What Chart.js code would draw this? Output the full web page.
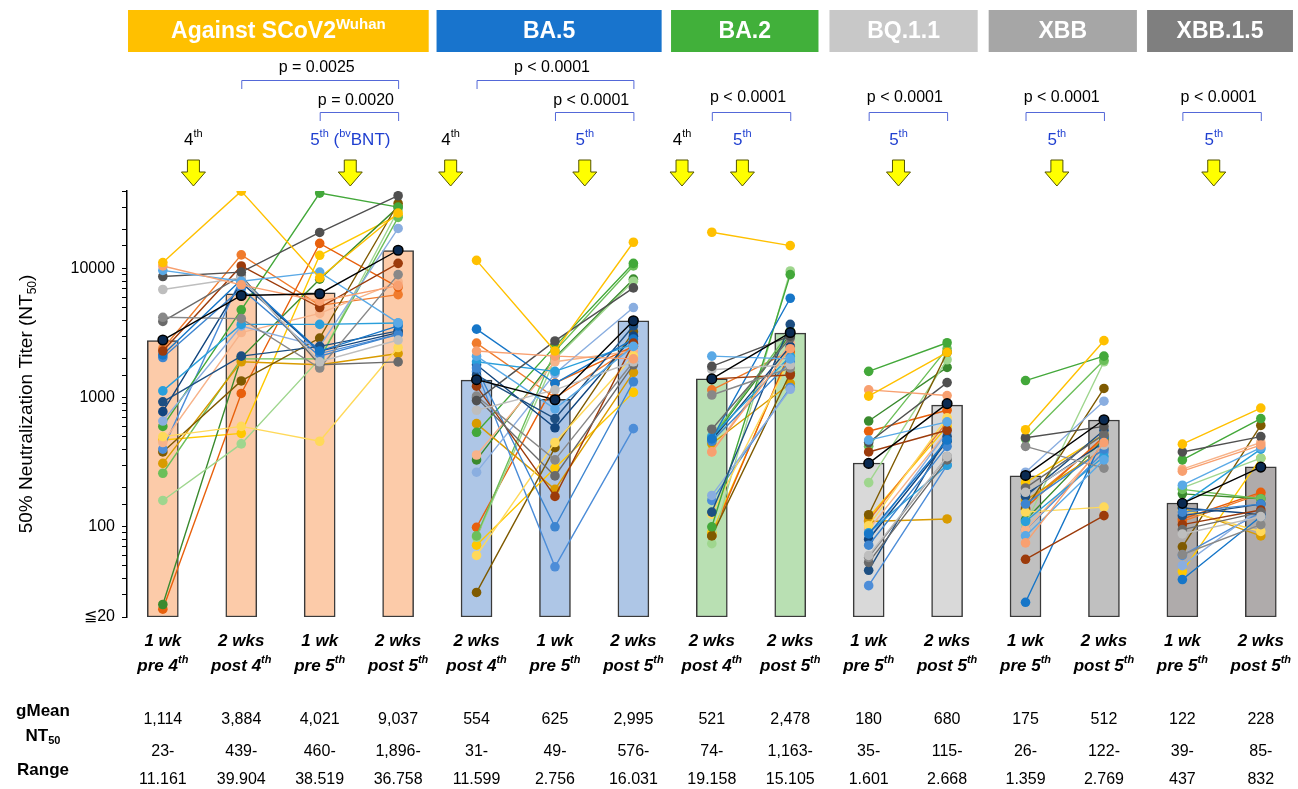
<!DOCTYPE html>
<html>
<head>
<meta charset="utf-8">
<script src="https://cdn.jsdelivr.net/npm/chart.js@4.4.0/dist/chart.umd.min.js"></script>
<style>
  html, body { margin: 0; padding: 0; background: #fff; }
  #wrap { width: 1298px; height: 789px; }
</style>
</head>
<body>
<div id="wrap"><canvas id="myChart" width="1298" height="789"></canvas></div>
<script>
const Y_MIN = 20
const Y_MAX = 40000
const FONT = '"Liberation Sans", Arial, sans-serif'

// columns (15 in a row, grouped by variant)
const columnTop = ['1 wk', '2 wks', '1 wk', '2 wks', '2 wks', '1 wk', '2 wks', '2 wks', '2 wks', '1 wk', '2 wks', '1 wk', '2 wks', '1 wk', '2 wks']
const columnBottom = ['pre 4', 'post 4', 'pre 5', 'post 5', 'post 4', 'pre 5', 'post 5', 'post 4', 'post 5', 'pre 5', 'post 5', 'pre 5', 'post 5', 'pre 5', 'post 5']
const gMeans = ['1,114', '3,884', '4,021', '9,037', '554', '625', '2,995', '521', '2,478', '180', '680', '175', '512', '122', '228']
const rangeLow = ['23-', '439-', '460-', '1,896-', '31-', '49-', '576-', '74-', '1,163-', '35-', '115-', '26-', '122-', '39-', '85-']
const rangeHigh = ['11.161', '39.904', '38.519', '36.758', '11.599', '2.756', '16.031', '19.158', '15.105', '1.601', '2.668', '1.359', '2.769', '437', '832']
const barValues = [2770, 6400, 6500, 13800, 1370, 970, 3950, 1400, 3170, 312, 877, 248, 672, 153, 292]

// variants
const variantNames = ['Against SCoV2', 'BA.5', 'BA.2', 'BQ.1.1', 'XBB', 'XBB.1.5']
const variantStart = [0, 4, 7, 9, 11, 13]
const headerColors = ['#FFC000', '#1874CD', '#41B03A', '#C8C8C8', '#A6A6A6', '#7F7F7F']
const barColors = ['#FCCBA9', '#AEC6E6', '#B9E0B3', '#D9D9D9', '#C0C0C0', '#AFABAB']

// p values and the column pairs they compare
const pLabels = ['p = 0.0025', 'p = 0.0020', 'p < 0.0001', 'p < 0.0001', 'p < 0.0001', 'p < 0.0001', 'p < 0.0001', 'p < 0.0001']
const pPairs = [[1, 3], [2, 3], [4, 6], [5, 6], [7, 8], [9, 10], [11, 12], [13, 14]]

// one colour per donor, same order as the rows below
const subjectColors = [
    '#FFC000', '#F8A070', '#5AA9E6', '#505050', '#BEBEBE', '#888888', '#6A6A6A',
    '#0A2A52', '#9C3B0B', '#1676C8', '#3D85D0', '#2A9FDB', '#1D4F82', '#11457E',
    '#8AAEE0', '#43A83A', '#FFD95A', '#F7B38A', '#4D8DD8', '#7F5A00', '#D99B00',
    '#6CBF5A', '#9FD68E', '#3A8A2E', '#E8600C', '#F07B2C', '#FFC800'
]
const highlighted = 7

const wuhanTiters = [
    [11161, 39904, 8500, 27000], [10500, 7500, 5600, 7400], [9700, 8000, 9400, 3800],
    [8700, 9400, 19100, 36758], [6900, 8500, 1900, 2800], [4200, 4100, 1700, 9000],
    [3900, 8800, 1800, 1896], [2800, 6200, 6400, 13900], [2300, 10500, 5000, 11000],
    [2150, 8200, 2300, 3600], [2050, 7000, 2100, 3100], [1130, 3700, 3700, 3800],
    [930, 2100, 2500, 3300], [780, 7800, 2300, 3200], [660, 3600, 2500, 20500],
    [600, 4800, 38519, 30000], [500, 600, 460, 2450], [450, 3200, 4500, 7900],
    [400, 8500, 2200, 3100], [380, 1350, 2900, 32000], [310, 1900, 1800, 2200],
    [260, 2000, 2000, 25000], [160, 439, 2000, 28500], [25, 2050, 8300, 30000],
    [23, 1080, 15700, 7200], [2400, 12800, 5200, 6300], [470, 530, 12700, 26000]
]
const ba5Titers = [
    [11599, 2300, 16031], [2300, 2100, 2000], [2100, 820, 2500], [950, 2756, 7100],
    [800, 1150, 1900], [1030, 330, 1900], [1000, 248, 1800], [1380, 965, 3950],
    [1230, 172, 2650], [3400, 1290, 2850], [1700, 100, 1330], [1900, 1600, 2600],
    [1500, 690, 3600], [1800, 585, 3000], [265, 1540, 5000], [540, 2500, 11000],
    [60, 450, 2100], [360, 1900, 2300], [1600, 49, 576], [31, 410, 3250],
    [630, 195, 1570], [85, 2300, 10500], [83, 2000, 8000], [330, 2050, 8300],
    [99, 1300, 2500], [2650, 1000, 2500], [72, 285, 1100]
]
const ba2Titers = [
    [19158, 15105], [380, 2400], [2100, 2000], [1750, 3000], [1650, 1800], [1050, 1700],
    [570, 2900], [1400, 3200], [1400, 1500], [480, 5900], [460, 1900], [500, 2100],
    [130, 3700], [470, 2500], [175, 1163], [100, 9000], [125, 2000], [380, 2650],
    [160, 1200], [85, 1550], [440, 1290], [490, 3300], [74, 9600], [480, 3100],
    [85, 2300], [1150, 2300], [90, 2200]
]
const bq11Titers = [
    [1030, 2250], [1150, 1040], [470, 650], [450, 1310], [60, 350], [58, 350],
    [53, 330], [310, 900], [380, 560], [88, 470], [72, 420], [90, 300],
    [46, 500], [80, 460], [81, 540], [1601, 2668], [102, 700], [95, 550],
    [35, 300], [124, 2250], [110, 115], [420, 2400], [220, 1970], [660, 1720],
    [550, 800], [112, 650], [118, 600]
]
const xbbTiters = [
    [565, 2769], [75, 450], [85, 330], [490, 600], [185, 430], [420, 285],
    [200, 520], [250, 675], [56, 122], [26, 500], [150, 400], [110, 350],
    [172, 560], [180, 450], [265, 940], [1359, 2100], [130, 142], [95, 420],
    [95, 380], [137, 1180], [160, 400], [480, 1950], [105, 1900], [113, 480],
    [140, 500], [150, 480], [220, 520]
]
const xbb15Titers = [
    [437, 832], [270, 430], [210, 410], [380, 500], [88, 120], [61, 104],
    [95, 130], [152, 290], [104, 135], [39, 120], [130, 150], [150, 400],
    [122, 150], [140, 125], [50, 140], [330, 690], [135, 92], [280, 450],
    [60, 130], [70, 610], [140, 85], [195, 165], [200, 340], [180, 165],
    [115, 185], [110, 180], [45, 340]
]
const variantTiters = [wuhanTiters, ba5Titers, ba2Titers, bq11Titers, xbbTiters, xbb15Titers]

// ---------- datasets ----------
function groupOf(col) {
    let g = 0
    variantStart.forEach((s, i) => { if (col >= s) g = i })
    return g
}

const datasets = []

datasets.push({
    type: 'bar',
    data: barValues.map((v, i) => ({ x: i, y: [Y_MIN, v] })),
    backgroundColor: barValues.map((v, i) => barColors[groupOf(i)]),
    borderColor: '#3a3a3a',
    borderWidth: 1.5,
    borderSkipped: false,
    barThickness: 31,
    grouped: false,
    order: 100,
})

subjectColors.forEach((color, s) => {
    const points = []
    variantTiters.forEach((rows, g) => {
        const row = rows[s]
        row.forEach((v, j) => points.push({ x: variantStart[g] + j, y: v }))
        // break the line between variants
        points.push({ x: variantStart[g] + row.length - 0.5, y: null })
    })
    const isHi = s === highlighted
    datasets.push({
        type: 'line',
        data: points,
        spanGaps: false,
        borderColor: isHi ? '#000' : color,
        backgroundColor: color,
        borderWidth: 1.4,
        pointRadius: 4.8,
        pointBackgroundColor: color,
        pointBorderColor: isHi ? '#000' : color,
        pointBorderWidth: isHi ? 1.5 : 0,
        order: isHi ? 0 : 10,
    })
})

// ---------- text helpers ----------
function fontStr(size, weight, style) {
    return (style || 'normal') + ' ' + (weight || 'normal') + ' ' + size + 'px ' + FONT
}

// parts: [[text, ''|'sup'|'sub'], ...]
function drawRich(ctx, parts, cx, cy, size, opts) {
    opts = opts || {}
    const small = Math.round(size * 0.65)
    let total = 0
    const widths = parts.map(([t, k]) => {
        ctx.font = fontStr(k ? small : size, opts.weight, opts.style)
        const w = ctx.measureText(t).width
        total += w
        return w
    })
    let x = opts.align === 'left' ? cx : cx - total / 2
    ctx.textBaseline = 'middle'
    ctx.textAlign = 'left'
    ctx.fillStyle = opts.color || '#000'
    parts.forEach(([t, k], i) => {
        ctx.font = fontStr(k ? small : size, opts.weight, opts.style)
        let dy = 0
        if (k === 'sup') dy = -size * 0.33
        if (k === 'sub') dy = size * 0.28
        ctx.fillText(t, x, cy + dy)
        x += widths[i]
    })
}

function drawArrow(ctx, cx, top) {
    ctx.beginPath()
    ctx.moveTo(cx - 6, top)
    ctx.lineTo(cx + 6, top)
    ctx.lineTo(cx + 6, top + 12)
    ctx.lineTo(cx + 12, top + 12)
    ctx.lineTo(cx, top + 26)
    ctx.lineTo(cx - 12, top + 12)
    ctx.lineTo(cx - 6, top + 12)
    ctx.closePath()
    ctx.fillStyle = '#FFFF00'
    ctx.fill()
    ctx.strokeStyle = '#555500'
    ctx.lineWidth = 1
    ctx.stroke()
}

// ---------- everything around the plot ----------
const overlay = {
    id: 'overlay',
    afterDraw(chart) {
        const ctx = chart.ctx
        const xs = chart.scales.x
        const px = v => xs.getPixelForValue(v)
        ctx.save()

        // variant header boxes
        const spans = [[-0.444, 3.39], [3.49, 6.36], [6.48, 8.36], [8.5, 10.39], [10.53, 12.42], [12.55, 14.41]]
        spans.forEach(([a, b], i) => {
            const x0 = Math.max(px(a), 128), x1 = Math.min(px(b), 1298)
            ctx.fillStyle = headerColors[i]
            ctx.fillRect(x0, 10, x1 - x0, 42)
            const parts = i === 0 ? [[variantNames[i], ''], ['Wuhan', 'sup']] : [[variantNames[i], '']]
            drawRich(ctx, parts, (x0 + x1) / 2, 32, 23, { weight: 'bold', color: '#fff' })
        })

        // significance brackets
        ctx.strokeStyle = '#5468D8'
        ctx.lineWidth = 1
        pPairs.forEach(([a, b], i) => {
            const lower = i === 1 || i >= 3
            const top = lower ? 112 : 80
            const labelY = i === 1 || i === 3 ? 101 : (lower ? 98 : 68)
            const x0 = px(a), x1 = px(b)
            ctx.beginPath()
            ctx.moveTo(x0 + 0.5, top + 9)
            ctx.lineTo(x0 + 0.5, top + 0.5)
            ctx.lineTo(x1 + 0.5, top + 0.5)
            ctx.lineTo(x1 + 0.5, top + 9)
            ctx.stroke()
            drawRich(ctx, [[pLabels[i], '']], (x0 + x1) / 2 - 3, labelY, 16)
        })

        // booster doses
        const doses = [[0.39, '4', false], [2.39, '5', true], [3.67, '4', false], [5.38, '5', true],
                       [6.62, '4', false], [7.39, '5', true], [9.38, '5', true], [11.4, '5', true], [13.4, '5', true]]
        doses.forEach(([c, n, fifth], i) => {
            const parts = [[n, ''], ['th', 'sup']]
            if (i === 1) parts.push([' (', ''], ['bv', 'sup'], ['BNT)', ''])
            drawRich(ctx, parts, px(c), 140, 17, { color: fifth ? '#1F3FD0' : '#000' })
            drawArrow(ctx, px(c), 160)
        })

        // column labels, geometric means and ranges
        columnTop.forEach((t, i) => {
            const cx = px(i)
            drawRich(ctx, [[t, '']], cx, 641, 17, { weight: 'bold', style: 'italic' })
            drawRich(ctx, [[columnBottom[i], ''], ['th', 'sup']], cx, 666, 17, { weight: 'bold', style: 'italic' })
            drawRich(ctx, [[gMeans[i], '']], cx, 720, 16)
            drawRich(ctx, [[rangeLow[i], '']], cx, 752, 16)
            drawRich(ctx, [[rangeHigh[i], '']], cx, 780, 16)
        })
        drawRich(ctx, [['gMean', '']], 43, 711, 17, { weight: 'bold' })
        drawRich(ctx, [['NT', ''], ['50', 'sub']], 43, 736, 17, { weight: 'bold' })
        drawRich(ctx, [['Range', '']], 43, 770, 17, { weight: 'bold' })

        // y axis title
        ctx.translate(27, 404)
        ctx.rotate(-Math.PI / 2)
        drawRich(ctx, [['50% Neutralization Titer (NT', ''], ['50', 'sub'], [')', '']], 0, 0, 19)
        ctx.restore()
    }
}

const ctx = document.getElementById('myChart').getContext('2d')
new Chart(ctx, {
    data: { datasets },
    options: {
        responsive: false,
        animation: false,
        devicePixelRatio: 1,
        layout: { padding: { top: 191, bottom: 172, left: 0, right: 1 } },
        plugins: { legend: { display: false }, tooltip: { enabled: false } },
        scales: {
            x: { type: 'linear', min: -0.457, max: 14.394, offset: false, display: false },
            y: {
                type: 'logarithmic',
                min: Y_MIN,
                max: Y_MAX,
                afterFit(scale) { scale.width = 127 },
                grid: { drawOnChartArea: false, drawTicks: true, tickLength: 5, color: '#000', lineWidth: 1 },
                border: { display: true, color: '#000', width: 1.5 },
                ticks: {
                    autoSkip: false,
                    padding: 7,
                    color: '#000',
                    font: { family: FONT, size: 16 },
                    callback(v) {
                        if (v === 20) return '≦20'
                        if (v === 100 || v === 1000 || v === 10000) return String(v)
                        return ''
                    }
                }
            }
        }
    },
    plugins: [overlay]
})
</script>
</body>
</html>
